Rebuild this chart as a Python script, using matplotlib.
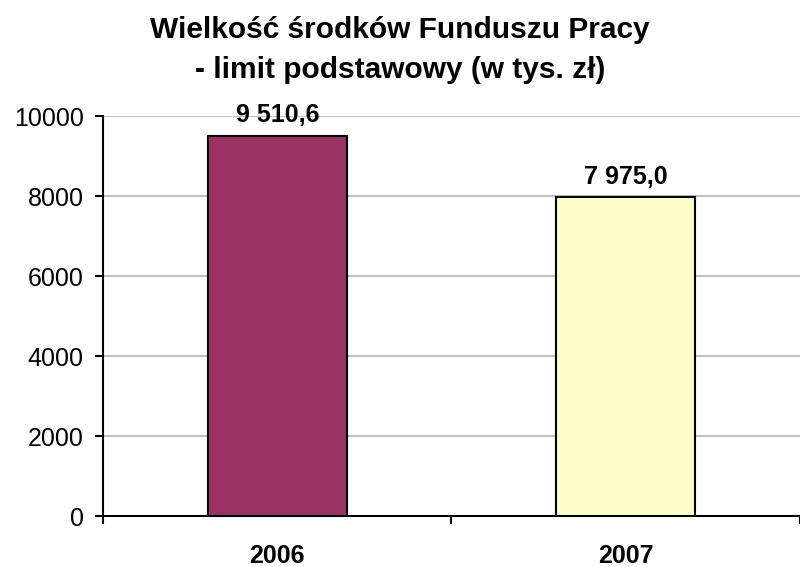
import matplotlib.pyplot as plt
import numpy as np

plt.rcParams['font.family'] = ['Liberation Sans', 'DejaVu Sans']

# dane
years = ['2006', '2007']
values = [9510.6, 7975.0]
labels = ['9 510,6', '7 975,0']
colors = ['#993366', '#FFFFCC']
title_lines = ['Wielkość środków Funduszu Pracy', '- limit podstawowy (w tys. zł)']

fig = plt.figure(figsize=(8, 5.67), dpi=100)
ax = fig.add_axes([0.129, 0.0899, 0.8705, 0.7055])

ind = np.arange(len(years))
bars = ax.bar(ind, values, 0.4, color=colors, edgecolor='black', linewidth=1.5, zorder=3)

for b, lab in zip(bars, labels):
    ax.annotate(lab, (b.get_x() + b.get_width() / 2, b.get_height()),
                xytext=(0, 6), textcoords='offset points',
                ha='center', va='bottom', fontsize=18, fontweight='bold')

ax.set_xlim(-0.5, 1.5)
ax.set_ylim(0, 10000)
ax.set_yticks(np.arange(0, 10001, 2000))
ax.yaxis.grid(True, color='#c0c0c0', linewidth=1.5, zorder=0)
ax.set_axisbelow(True)

# podzialki kategorii
ax.set_xticks([-0.5, 0.5, 1.5])
ax.set_xticklabels([])
ax.set_xticks(ind, minor=True)
ax.set_xticklabels(years, minor=True, fontsize=18, fontweight='bold')
ax.tick_params(axis='x', which='major', length=6, width=1.5, direction='out')
ax.tick_params(axis='x', which='minor', length=0, pad=20)
ax.tick_params(axis='y', length=6, width=1.5, direction='out', labelsize=18, pad=8)

for s in ['top', 'right']:
    ax.spines[s].set_visible(False)
ax.spines['left'].set_linewidth(1.5)
ax.spines['bottom'].set_linewidth(1.5)

# tytul w dwoch liniach
fig.text(0.5, 1 - 38 / 567, title_lines[0], ha='center', va='baseline',
         fontsize=21.5, fontweight='bold')
fig.text(0.5, 1 - 78 / 567, title_lines[1], ha='center', va='baseline',
         fontsize=21.5, fontweight='bold')

fig.savefig('out.png', dpi=100)
